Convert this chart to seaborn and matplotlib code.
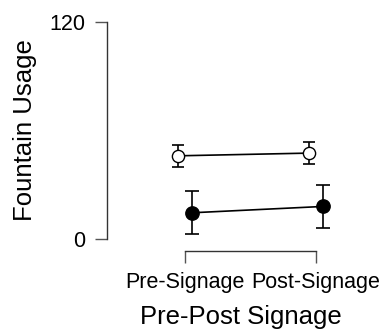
import matplotlib
matplotlib.use("Agg")
import matplotlib.pyplot as plt
import seaborn as sns
import pandas as pd
import numpy as np

# ---- data ----
phases = ["Pre-Signage", "Post-Signage"]
groups = ["Group A", "Group B"]           # A = open circles, B = filled circles
means_a = [46.0, 47.5]
err_a = [6.0, 6.0]
means_b = [14.5, 18.0]
err_b = [12.0, 12.0]
yticks = [0, 120]

df = pd.DataFrame({
    "phase": phases * 2,
    "group": [groups[0]] * 2 + [groups[1]] * 2,
    "usage": means_a + means_b,
    "err": err_a + err_b,
})

sns.set_theme(style="white")
plt.rcParams["font.family"] = ["Liberation Sans", "DejaVu Sans"]
plt.rcParams["text.color"] = "black"
plt.rcParams["axes.labelcolor"] = "black"
plt.rcParams["xtick.labelcolor"] = "black"
plt.rcParams["ytick.labelcolor"] = "black"

fig = plt.figure(figsize=(3.84, 3.30), dpi=100)
ax = fig.add_axes([107 / 384, 91 / 330, 268 / 384, 217 / 330])

sns.pointplot(data=df, x="phase", y="usage", hue="group", order=phases,
              hue_order=groups, dodge=0.107, errorbar=None,
              palette=["black", "black"], markers=["o", "o"],
              linestyles=["-", "-"], linewidth=1.2, ax=ax, legend=False)

# style markers and add error bars at the positions seaborn chose
styles = {groups[0]: dict(mfc="white", ms=8.8, cap=4.3),
          groups[1]: dict(mfc="black", ms=9.6, cap=4.7)}
data_lines = [l for l in ax.lines if len(l.get_xdata()) == 2]
for line, g in zip(data_lines, groups):
    st = styles[g]
    line.set_markerfacecolor(st["mfc"])
    line.set_markeredgecolor("black")
    line.set_markersize(st["ms"])
    line.set_markeredgewidth(1.0)
    line.set_zorder(4)
    sub = df[df["group"] == g].set_index("phase").loc[phases]
    ax.errorbar(line.get_xdata(), sub["usage"].values, yerr=sub["err"].values,
                fmt="none", ecolor="black", elinewidth=1.2, capsize=st["cap"],
                capthick=1.2, zorder=2)

ax.set_ylim(0, 120)
ax.set_xlim(-0.595, 1.45)
ax.set_yticks(yticks)
ax.set_yticklabels([str(t) for t in yticks])

for s in ["top", "right"]:
    ax.spines[s].set_visible(False)
ax.spines["left"].set_bounds(0, 120)
ax.spines["bottom"].set_bounds(0, 1)
ax.spines["bottom"].set_position(("outward", 8.5))
for s in ["left", "bottom"]:
    ax.spines[s].set_color("#333333")
    ax.spines[s].set_linewidth(1.0)

ax.tick_params(axis="y", length=8.6, width=1.0, color="#555555", pad=7,
               labelsize=15.5, left=True, labelcolor="black")
ax.tick_params(axis="x", length=8.6, width=1.0, color="#555555", pad=7,
               labelsize=15.5, bottom=True, labelcolor="black")

ax.set_xlabel("Pre-Post Signage", fontsize=18.5, labelpad=8, color="black")
ax.set_ylabel("Fountain Usage", fontsize=18.5, labelpad=9, color="black")

fig.savefig("out.png", dpi=100)
